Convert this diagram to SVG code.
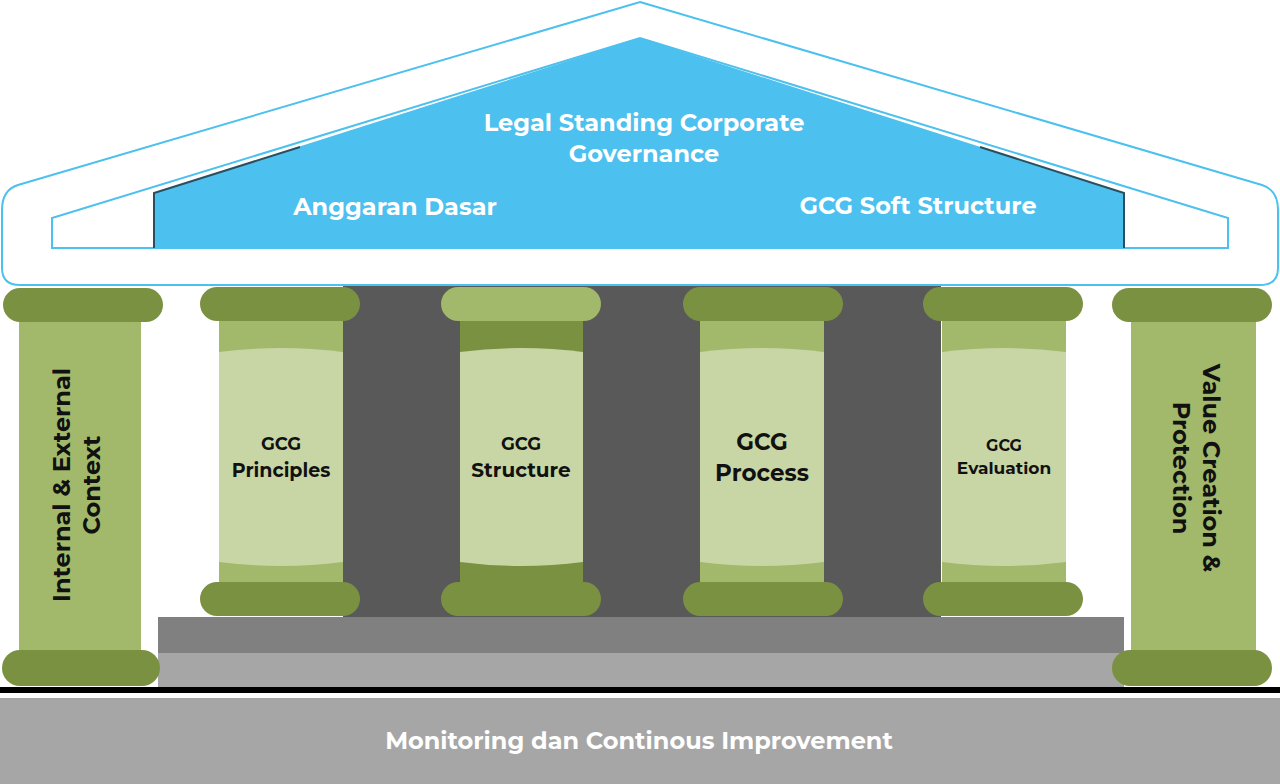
<svg xmlns="http://www.w3.org/2000/svg" width="1280" height="784" viewBox="0 0 1280 784">
<style>
text{font-family:Montserrat,"Open Sans","Liberation Sans",sans-serif;font-weight:bold;fill:#fff;text-anchor:middle}
.t{font-size:24px}.d{fill:#111}
.cap{fill:#7b9142}.capl{fill:#a2b86a}.sh{fill:#a2b86a}.shd{fill:#7b9142}.in{fill:#c8d6a6}
</style>
<rect x="343" y="285" width="598" height="332" fill="#595959"/>
<g id="roof">
<path d="M640,2 L1262,185 Q1278,190 1278,210 L1278,268 Q1278,285 1260,285 L20,285 Q2,285 2,268 L2,210 Q2,190 18,185 Z" fill="#fff" stroke="#4cc0ee" stroke-width="2"/>
<path d="M52,248 L52,218 L640,38 L1228,218 L1228,248 Z" fill="#fff" stroke="#4cc0ee" stroke-width="2"/>
<path d="M154,248 L154,193 L640,38 L1124,193 L1124,248 Z" fill="#4cc0ee"/>
<path d="M154,248 L154,193 L300,147" fill="none" stroke="#2b4f5e" stroke-width="2"/>
<path d="M1124,248 L1124,193 L980,147" fill="none" stroke="#2b4f5e" stroke-width="2"/>
<text x="644" y="131" class="t">Legal Standing Corporate</text>
<text x="644" y="162" class="t">Governance</text>
<text x="395" y="215" class="t">Anggaran Dasar</text>
<text x="918" y="214" class="t">GCG Soft Structure</text>
<ellipse cx="622" cy="278" rx="14" ry="6" fill="#d9d9d9"/>
<ellipse cx="692" cy="278" rx="14" ry="6" fill="#d9d9d9"/>
<rect x="600" y="270" width="110" height="14" fill="#fff"/>
</g>
<g id="steps">
<rect x="158" y="617" width="966" height="36" fill="#808080"/>
<rect x="158" y="653" width="966" height="34" fill="#a6a6a6"/>
<rect x="0" y="687" width="1280" height="6" fill="#000"/>
</g>
<g id="col-left">
<rect x="19" y="318" width="122" height="337" class="sh"/>
<rect x="3" y="288" width="160" height="34" rx="17" class="cap"/>
<rect x="2" y="650" width="158" height="36" rx="18" class="cap"/>
<text transform="translate(80,485) rotate(-90)" class="t d"><tspan x="0" y="-10">Internal &amp; External</tspan><tspan x="0" y="20">Context</tspan></text>
</g>
<g id="col-right">
<rect x="1131" y="318" width="125" height="337" class="sh"/>
<rect x="1112" y="288" width="160" height="34" rx="17" class="cap"/>
<rect x="1112" y="650" width="160" height="36" rx="18" class="cap"/>
<text transform="translate(1193,468) rotate(90)" class="t d"><tspan x="0" y="-10">Value Creation &amp;</tspan><tspan x="0" y="20">Protection</tspan></text>
</g>
<g id="col-principles">
<rect x="219" y="318" width="124" height="266" class="sh"/>
<path d="M219,352 Q281,344 343,352 L343,562 Q281,570 219,562 Z" class="in"/>
<rect x="200" y="287" width="160" height="34" rx="17" class="cap"/>
<rect x="200" y="582" width="160" height="34" rx="17" class="cap"/>
<text x="281" y="450" font-size="18" class="d">GCG</text><text x="281" y="477" font-size="19" class="d">Principles</text>
</g>
<g id="col-structure">
<rect x="460" y="318" width="123" height="266" class="shd"/>
<path d="M460,352 Q521,344 583,352 L583,562 Q521,570 460,562 Z" class="in"/>
<rect x="441" y="287" width="160" height="34" rx="17" class="capl"/>
<rect x="441" y="582" width="160" height="34" rx="17" class="cap"/>
<text x="521" y="450" font-size="18" class="d">GCG</text><text x="521" y="477" font-size="20" class="d">Structure</text>
</g>
<g id="col-process">
<rect x="700" y="318" width="124" height="266" class="sh"/>
<path d="M700,352 Q762,344 824,352 L824,562 Q762,570 700,562 Z" class="in"/>
<rect x="683" y="287" width="160" height="34" rx="17" class="cap"/>
<rect x="683" y="582" width="160" height="34" rx="17" class="cap"/>
<text x="762" y="450" font-size="23" class="d">GCG</text><text x="762" y="481" font-size="23" class="d">Process</text>
</g>
<g id="col-evaluation">
<rect x="942" y="318" width="124" height="266" class="sh"/>
<path d="M942,352 Q1004,344 1066,352 L1066,562 Q1004,570 942,562 Z" class="in"/>
<rect x="923" y="287" width="160" height="34" rx="17" class="cap"/>
<rect x="923" y="582" width="160" height="34" rx="17" class="cap"/>
<text x="1004" y="451" font-size="16" class="d">GCG</text><text x="1004" y="474" font-size="17" class="d">Evaluation</text>
</g>
<g id="foundation">
<rect x="0" y="698" width="1280" height="86" fill="#a6a6a6"/>
<text x="639" y="749" class="t">Monitoring dan Continous Improvement</text>
</g>
</svg>
